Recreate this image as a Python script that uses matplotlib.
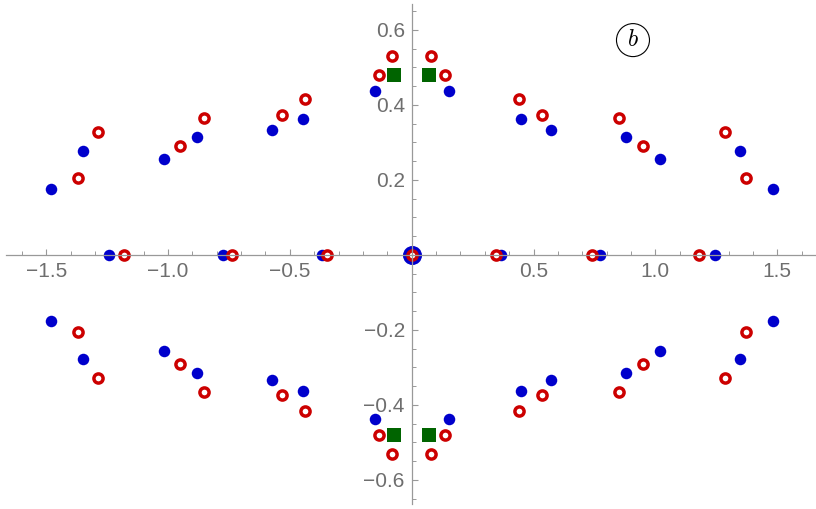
import matplotlib
matplotlib.use("Agg")
import matplotlib.pyplot as plt
from matplotlib.patches import Ellipse
from matplotlib.ticker import MultipleLocator

# ---- data ----
blue_x = [-1.481, -1.3475, -1.017, -0.881, -0.5715, -0.448, -0.152,
          0.152, 0.448, 0.5715, 0.881, 1.017, 1.3475, 1.481,
          -1.481, -1.3475, -1.017, -0.881, -0.5715, -0.448, -0.152,
          0.152, 0.448, 0.5715, 0.881, 1.017, 1.3475, 1.481,
          -1.2425, -0.7735, -0.367, 0.367, 0.7735, 1.2425]
blue_y = [0.175, 0.2765, 0.255, 0.314, 0.333, 0.3635, 0.437,
          0.437, 0.3635, 0.333, 0.314, 0.255, 0.2765, 0.175,
          -0.175, -0.2765, -0.255, -0.314, -0.333, -0.3635, -0.437,
          -0.437, -0.3635, -0.333, -0.314, -0.255, -0.2765, -0.175,
          0.0, 0.0, 0.0, 0.0, 0.0, 0.0]
blue_origin_x = [0.0]
blue_origin_y = [0.0]

red_x = [-1.3705, -1.287, -0.951, -0.851, -0.534, -0.4385, -0.135, -0.0806,
         0.0806, 0.135, 0.4385, 0.534, 0.851, 0.951, 1.287, 1.3705,
         -1.3705, -1.287, -0.951, -0.851, -0.534, -0.4385, -0.135, -0.0806,
         0.0806, 0.135, 0.4385, 0.534, 0.851, 0.951, 1.287, 1.3705,
         -1.18, -0.738, -0.347, 0.0, 0.347, 0.738, 1.18]
red_y = [0.2045, 0.328, 0.291, 0.366, 0.373, 0.417, 0.479, 0.5315,
         0.5315, 0.479, 0.417, 0.373, 0.366, 0.291, 0.328, 0.2045,
         -0.2045, -0.328, -0.291, -0.366, -0.373, -0.417, -0.479, -0.5315,
         -0.5315, -0.479, -0.417, -0.373, -0.366, -0.291, -0.328, -0.2045,
         0.0, 0.0, 0.0, 0.0, 0.0, 0.0, 0.0]

green_x = [-0.073, 0.073, -0.073, 0.073]
green_y = [0.48, 0.48, -0.48, -0.48]

x_ticks = [-1.5, -1.0, -0.5, 0.5, 1.0, 1.5]
x_ticklabels = ["\u22121.5", "\u22121.0", "\u22120.5", "0.5", "1.0", "1.5"]
y_ticks = [-0.6, -0.4, -0.2, 0.2, 0.4, 0.6]
y_ticklabels = ["\u22120.6", "\u22120.4", "\u22120.2", "0.2", "0.4", "0.6"]

panel_label = "$b$"
panel_pos = (0.908, 0.573)

# ---- styling ----
BLUE = "#0000CC"
RED = "#CC0000"
GREEN = "#006400"
AXIS = "#999999"
LABEL = "#6e6e6e"

plt.rcParams["font.family"] = ["Liberation Sans", "DejaVu Sans"]
plt.rcParams["mathtext.fontset"] = "cm"

fig = plt.figure(figsize=(8.16, 5.09), dpi=100)
ax = fig.add_axes([6 / 816, 4.7 / 509, 810 / 816, 500 / 509])
ax.set_xlim(-1.6648, 1.6590)
ax.set_ylim(-0.665, 0.6685)

for s in ["top", "right"]:
    ax.spines[s].set_visible(False)
ax.spines["left"].set_position("zero")
ax.spines["bottom"].set_position("zero")
for s in ["left", "bottom"]:
    ax.spines[s].set_color(AXIS)
    ax.spines[s].set_linewidth(0.9)

ax.set_xticks(x_ticks)
ax.set_xticklabels(x_ticklabels)
ax.set_yticks(y_ticks)
ax.set_yticklabels(y_ticklabels)
ax.xaxis.set_minor_locator(MultipleLocator(0.1))
ax.yaxis.set_minor_locator(MultipleLocator(0.05))
ax.tick_params(which="major", direction="in", length=4.5, width=0.8,
               color=AXIS, labelcolor=LABEL, labelsize=15)
ax.tick_params(which="minor", direction="in", length=2.8, width=0.7, color=AXIS)
ax.tick_params(axis="x", which="major", pad=5)
ax.tick_params(axis="y", which="major", pad=5)

ax.plot(blue_origin_x, blue_origin_y, "o", ms=13.7, color=BLUE, mec=BLUE,
        mew=0, clip_on=False, zorder=2)
ax.plot(blue_x, blue_y, "o", ms=8.3, color=BLUE, mew=0, clip_on=False, zorder=2)
ax.plot(red_x, red_y, "o", ms=6.6, mfc="white", mec=RED, mew=2.5,
        clip_on=False, zorder=2.1)
ax.plot(green_x, green_y, "s", ms=9.6, color=GREEN, mew=0, clip_on=False,
        zorder=2.2)

ax.add_patch(Ellipse(panel_pos, width=33 / 243.7, height=33 / 375,
                     fill=False, ec="black", lw=0.8, zorder=3))
ax.text(panel_pos[0], panel_pos[1], panel_label, ha="center", va="center",
        fontsize=17, color="black", zorder=3)

fig.savefig("out.png", dpi=100)
